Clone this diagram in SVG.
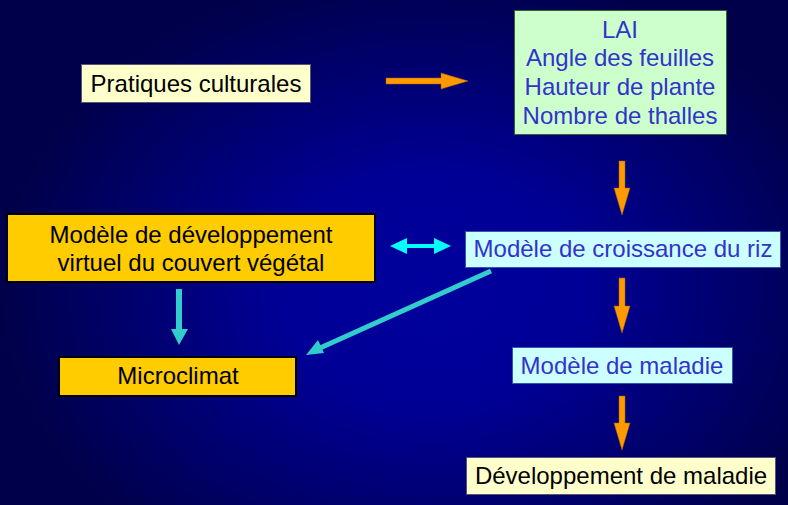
<svg xmlns="http://www.w3.org/2000/svg" width="788" height="505" viewBox="0 0 788 505">
<defs>
<radialGradient id="bg" gradientUnits="userSpaceOnUse" cx="430" cy="290" r="430" gradientTransform="translate(430 290) scale(1 0.75) translate(-430 -290)">
<stop offset="0" stop-color="#00009c"/>
<stop offset="0.35" stop-color="#000096"/>
<stop offset="1" stop-color="#00004a"/>
</radialGradient>
<style>
text{font-family:"Liberation Sans",Arial,sans-serif;font-size:24px;text-anchor:middle}
.dark{fill:#000000}
.blue{fill:#3333cc}
.cream{fill:#ffffcc;stroke:#555577;stroke-width:1}
.green{fill:#ccffcc;stroke:#336633;stroke-width:1}
.cyanbox{fill:#ccffff;stroke:#3355aa;stroke-width:1}
.gold{fill:#ffcc00;stroke:#000000;stroke-width:2}
.orange{fill:#ff9900;stroke:#aa6600;stroke-width:0.5}
.teal{fill:#33cccc}
.aqua{fill:#00ffff}
</style>
</defs>
<rect x="0" y="0" width="788" height="505" fill="url(#bg)"/>

<g id="connectors">
<path class="orange" d="M386,78 L441,78 L441,73 L468,81 L441,89 L441,84 L386,84 Z"/>
<path class="orange" d="M619,161 L625,161 L625,188 L630,188 L622,215 L614,188 L619,188 Z"/>
<path class="orange" d="M619,278 L625,278 L625,306 L630,306 L622,333 L614,306 L619,306 Z"/>
<path class="orange" d="M619,396 L625,396 L625,423 L630,423 L622,450 L614,423 L619,423 Z"/>
<path class="aqua" d="M390,246 L407,238 L407,244 L434,244 L434,238 L451,246 L434,254 L434,248 L407,248 L407,254 Z"/>
<path class="teal" d="M176,289 L182,289 L182,329 L188,329 L179,345 L171,329 L176,329 Z"/>
<line x1="491" y1="271" x2="320" y2="348" stroke="#33cccc" stroke-width="5"/>
<path class="teal" d="M306,355 L318,340 L324,353 Z"/>
</g>

<g id="pratiques">
<rect class="cream" x="81.5" y="64.5" width="229" height="38"/>
<text class="dark" x="196" y="92">Pratiques culturales</text>
</g>

<g id="lai">
<rect class="green" x="514.5" y="10.5" width="212" height="124"/>
<text class="blue" x="620" y="38">LAI</text>
<text class="blue" x="620" y="66">Angle des feuilles</text>
<text class="blue" x="620" y="95">Hauteur de plante</text>
<text class="blue" x="620" y="124">Nombre de thalles</text>
</g>

<g id="croissance">
<rect class="cyanbox" x="465.5" y="231.5" width="315" height="36"/>
<text class="blue" x="623" y="257">Modèle de croissance du riz</text>
</g>

<g id="developpement-virtuel">
<rect class="gold" x="7" y="214" width="368" height="68"/>
<text class="dark" x="191" y="243">Modèle de développement</text>
<text class="dark" x="191" y="271">virtuel du couvert végétal</text>
</g>

<g id="microclimat">
<rect class="gold" x="59" y="357" width="237" height="39"/>
<text class="dark" x="178" y="384">Microclimat</text>
</g>

<g id="maladie">
<rect class="cyanbox" x="512.5" y="347.5" width="220" height="36"/>
<text class="blue" x="622" y="374">Modèle de maladie</text>
</g>

<g id="developpement-maladie">
<rect class="cream" x="466.5" y="457.5" width="309" height="37"/>
<text class="dark" x="621" y="484">Développement de maladie</text>
</g>
</svg>
